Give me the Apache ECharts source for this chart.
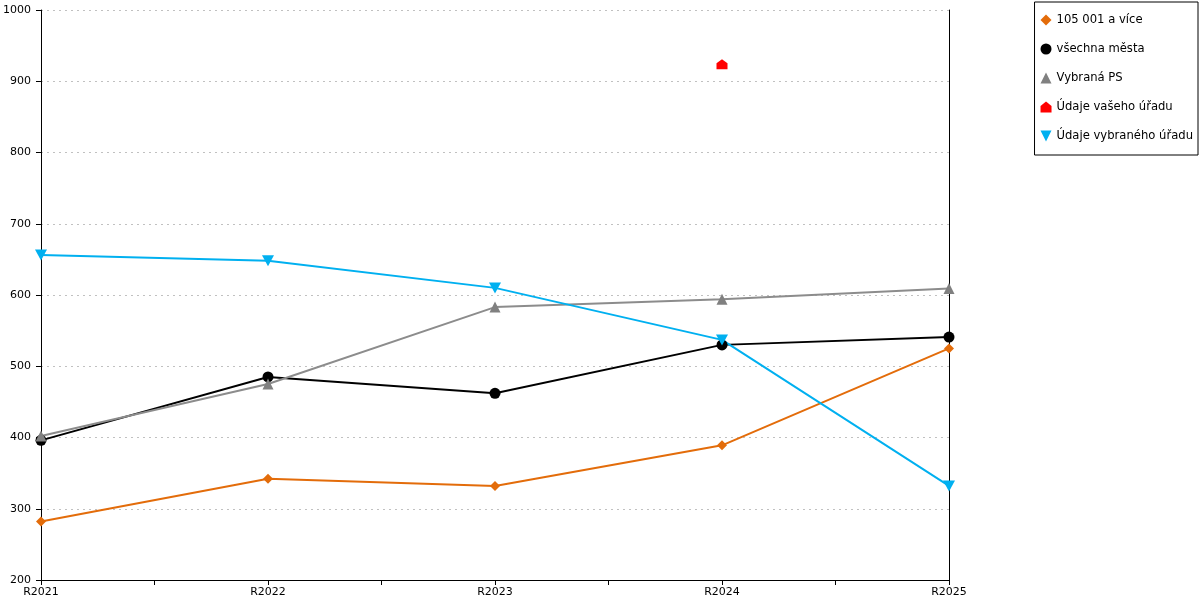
<!DOCTYPE html>
<html>
<head>
<meta charset="utf-8">
<script src="https://cdn.jsdelivr.net/npm/echarts@6/dist/echarts.min.js"></script>
<style>html,body{margin:0;padding:0;background:#fff}#c{width:1200px;height:600px}</style>
</head>
<body>
<div id="c"></div>
<script>
const categories = ['R2021', 'R2022', 'R2023', 'R2024', 'R2025'];
const seriesNames = ['105 001 a více', 'všechna města', 'Vybraná PS', 'Údaje vašeho úřadu', 'Údaje vybraného úřadu'];
const sizeGroup = [282, 342, 332, 389, 525];
const allCities = [396, 485, 462, 530, 541];
const selectedPS = [402, 475, 583, 594, 609];
const yourOffice = [null, null, null, 924, null];
const selectedOffice = [656, 648, 610, 537, 332];
const yTicks = { min: 200, max: 1000, step: 100 };

function pairs(arr) {
  return arr.map((v, i) => v == null ? null : [i, v]).filter(p => p);
}
const font = 'DejaVu Sans';
const house = 'path://M0,10 L0,4 L5,0 L10,4 L10,10 Z';
const downTri = 'path://M0,0 L10,0 L5,10 Z';
const chart = echarts.init(document.getElementById('c'));
const mk = (name, data, color, symbol, size, extra) => Object.assign({
  name, type: 'line', data: pairs(data), symbol, symbolSize: size,
  lineStyle: { color, width: 2 }, itemStyle: { color }, color,
  emphasis: { disabled: true }, animation: false
}, extra || {});
const icons = ['diamond', 'circle', 'triangle', house, downTri];
chart.setOption({
  animation: false,
  grid: { left: 40, right: 251, top: 10, bottom: 20 },
  legend: {
    orient: 'vertical', right: 2, top: 2,
    borderColor: '#000', borderWidth: 1,
    padding: [12, 5, 13, 6],
    itemWidth: 11, itemHeight: 11, itemGap: 17,
    textStyle: { fontFamily: font, fontSize: 11.6, color: '#000' },
    data: seriesNames.map((n, i) => ({ name: n, icon: icons[i] }))
  },
  xAxis: {
    type: 'value', min: 0, max: categories.length - 1, interval: 0.5,
    axisLine: { lineStyle: { color: '#000', width: 1 } },
    axisTick: { show: true, length: 5, lineStyle: { color: '#000' } },
    splitLine: { show: false },
    axisLabel: {
      fontFamily: font, fontSize: 11, color: '#000', margin: 7,
      formatter: v => Number.isInteger(v) ? categories[v] : ''
    }
  },
  yAxis: [{
    type: 'value', min: yTicks.min, max: yTicks.max, interval: yTicks.step,
    axisLine: { show: true, lineStyle: { color: '#000', width: 1 } },
    axisTick: { show: true, length: 5, lineStyle: { color: '#000' } },
    splitLine: { show: true, lineStyle: { color: '#c0c0c0', type: [2, 4], width: 1 } },
    axisLabel: { fontFamily: font, fontSize: 11, color: '#000', margin: 10, formatter: v => String(v) }
  }, {
    type: 'value', position: 'right', min: yTicks.min, max: yTicks.max, interval: yTicks.step,
    axisLine: { show: true, lineStyle: { color: '#000', width: 1 } },
    axisTick: { show: false }, axisLabel: { show: false }, splitLine: { show: false }
  }],
  series: [
    mk(seriesNames[0], sizeGroup, '#E36C0A', 'diamond', 10),
    mk(seriesNames[1], allCities, '#000000', 'circle', 11),
    mk(seriesNames[2], selectedPS, '#808080', 'triangle', 11, { lineStyle: { color: '#8c8c8c', width: 2 } }),
    mk(seriesNames[3], yourOffice, '#FF0000', house, [11, 10]),
    mk(seriesNames[4], selectedOffice, '#00B0F0', downTri, [12, 11])
  ]
});
</script>
</body>
</html>
